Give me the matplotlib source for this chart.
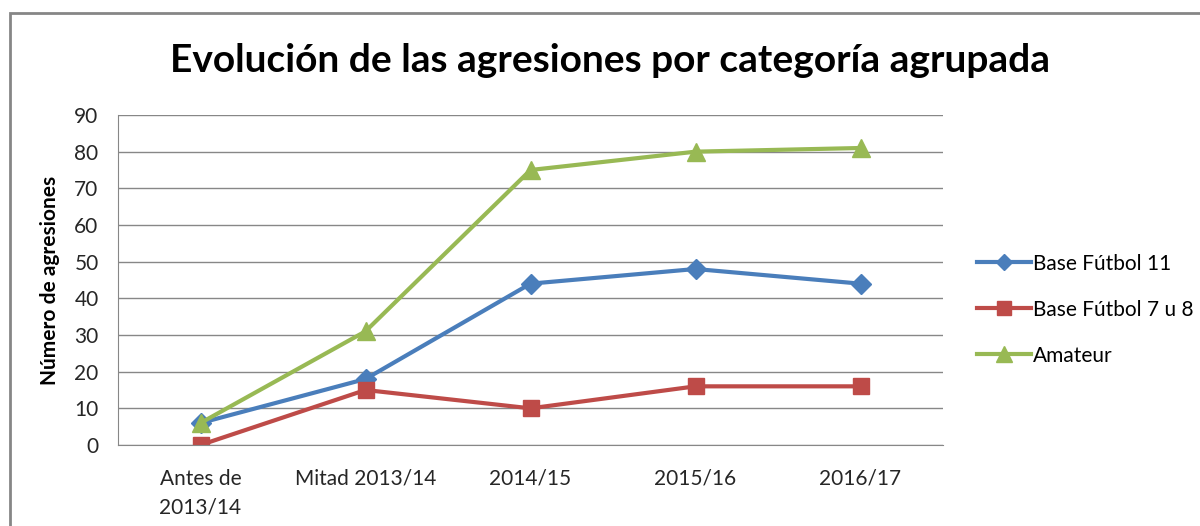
import matplotlib.pyplot as plt
from matplotlib.patches import Rectangle

# Datos
categorias = ['Antes de\n2013/14', 'Mitad 2013/14', '2014/15', '2015/16', '2016/17']
base_f11 = [6, 18, 44, 48, 44]
base_f7u8 = [0, 15, 10, 16, 16]
amateur = [6, 31, 75, 80, 81]

plt.rcParams['font.family'] = ['Lato', 'DejaVu Sans']

fig = plt.figure(figsize=(12, 5.26), dpi=100)
ax = fig.add_axes([118 / 1200, 81 / 526, 825 / 1200, 330 / 526])

# Marco gris del gráfico (cortado a la derecha y abajo)
fig.patches.append(Rectangle((10 / 1200, -0.1), 2, (526 - 13) / 526 + 0.1,
                             transform=fig.transFigure, fill=False,
                             edgecolor='#868686', linewidth=2))

x = range(len(categorias))
ax.plot(x, base_f11, color='#4A7EBB', lw=3, marker='D', ms=10, label='Base Fútbol 11')
ax.plot(x, base_f7u8, color='#BE4B48', lw=3, marker='s', ms=12, label='Base Fútbol 7 u 8')
ax.plot(x, amateur, color='#98B954', lw=3, marker='^', ms=13, label='Amateur')

ax.set_xlim(-0.5, len(categorias) - 0.5)
ax.set_ylim(0, 90)
ax.set_yticks(range(0, 91, 10))
ax.set_xticks(list(x))
ax.set_xticklabels(categorias, linespacing=1.55)
ax.tick_params(axis='both', labelsize=15, length=0, colors='#262626')
ax.tick_params(axis='x', pad=17)
ax.tick_params(axis='y', pad=14)
ax.grid(axis='y', color='#878787', lw=1)
ax.set_axisbelow(True)
for s in ['top', 'right']:
    ax.spines[s].set_visible(False)
for s in ['left', 'bottom']:
    ax.spines[s].set_color('#878787')

ax.set_ylabel('Número de agresiones', fontsize=15, fontweight='bold', labelpad=10)
fig.text(610 / 1200, 1 - 60 / 526, 'Evolución de las agresiones por categoría agrupada',
         ha='center', va='center', fontsize=28, fontweight='bold')

ax.legend(loc='center left', bbox_to_anchor=(1.018, 0.41), frameon=False, fontsize=15,
          handlelength=2.6, handletextpad=0.1, labelspacing=1.25, markerscale=0.85)

fig.savefig('out.png', dpi=100)
